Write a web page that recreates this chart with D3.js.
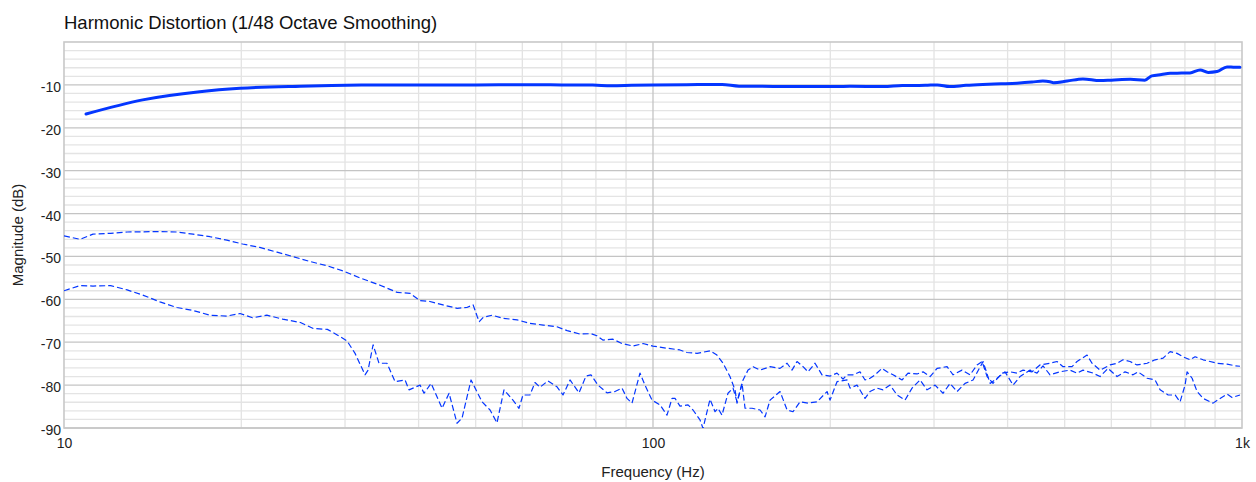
<!DOCTYPE html>
<html>
<head>
<meta charset="utf-8">
<script src="https://cdn.jsdelivr.net/npm/d3@7"></script>
<style>
  html, body { margin: 0; padding: 0; background: #fff; }
  svg { display: block; font-family: "Liberation Sans", Arial, Helvetica, sans-serif; }
</style>
</head>
<body>
<svg id="chart" width="1256" height="482"></svg>
<script>
// Harmonic distortion sweep: fundamental plus 2nd and 3rd harmonic levels (dB) vs frequency (Hz)
const chartTitle = "Harmonic Distortion (1/48 Octave Smoothing)";
const xLabel = "Frequency (Hz)";
const yLabel = "Magnitude (dB)";

const xTickValues = [10, 100, 1000];
const xTickLabels = ["10", "100", "1k"];
const yTickValues = [-10, -20, -30, -40, -50, -60, -70, -80, -90];

const fundamentalFreq = [10.9, 13.6, 17.0, 19.9, 25.2, 32, 40, 50, 60, 70, 79, 85, 92, 100, 114, 131, 140, 160, 185, 205, 216, 246, 265, 290, 304, 319, 340, 363, 390, 415, 440, 459, 472, 478, 505, 537, 574, 600, 646, 684, 703, 730, 755, 790, 816, 849, 876, 907, 943, 973, 992];
const fundamentalDb = [-16.8, -13.5, -11.6, -10.8, -10.3, -10.05, -10.0, -10.0, -9.95, -10.0, -10.05, -10.2, -10.1, -10.0, -9.95, -9.9, -10.3, -10.35, -10.35, -10.4, -10.3, -10.4, -10.15, -10.1, -10.0, -10.4, -10.1, -9.9, -9.75, -9.6, -9.35, -9.1, -9.25, -9.5, -9.1, -8.6, -9.0, -8.9, -8.7, -8.9, -7.9, -7.6, -7.3, -7.25, -7.2, -6.5, -7.1, -6.9, -5.8, -5.9, -5.9];

const h2Freq = [10, 10.65, 11.2, 12.0, 12.8, 14.55, 15.55, 16.56, 17.7, 18.9, 20.1, 21.5, 23.0, 24.5, 26.2, 28.0, 29.8, 31.8, 34.4, 36.8, 38.7, 40.2, 41.8, 44.0, 46.5, 48.3, 49.5, 50.3, 50.7, 51.5, 53.3, 55.6, 58.8, 61.8, 65.1, 68.7, 71.5, 75.2, 78.5, 80.3, 82.2, 85.5, 88.6, 92.5, 96.2, 100, 105.6, 111.1, 114.2, 118.8, 125, 128.4, 131.5, 135.1, 137.8, 138.9, 140.5, 142.2, 145, 147.9, 152, 158, 164.3, 168.9, 172.2, 175.6, 179.8, 183.3, 188.4, 193.6, 199.8, 205.3, 210.2, 213.5, 218.6, 224.6, 229.1, 233.6, 238.2, 244.8, 249.7, 255.6, 264.8, 271.0, 280.7, 287.4, 295.4, 303.6, 315.7, 323.2, 334.7, 345.4, 355.0, 362.0, 369.2, 377.8, 391.4, 403.9, 415.0, 424.9, 440.1, 453.9, 472.1, 485.2, 496.8, 514.5, 524.7, 545.7, 556.4, 574.1, 597.0, 613.6, 628.1, 645.5, 663.4, 690.0, 712.0, 734.6, 755.0, 775.8, 794.3, 816.4, 832.5, 858.9, 882.7, 907.3, 943.4, 973.3, 992.2];
const h2Db = [-45.2, -46.0, -44.8, -44.6, -44.3, -44.2, -44.3, -44.8, -45.4, -46.2, -47.1, -47.9, -49.0, -50.05, -51.2, -52.2, -53.4, -55.0, -56.7, -58.4, -58.6, -60.3, -60.5, -61.3, -62.1, -61.9, -61.3, -64.0, -65.2, -64.2, -63.7, -64.4, -64.8, -65.6, -66.0, -66.4, -67.3, -68.1, -68.0, -68.5, -69.5, -69.3, -70.3, -70.9, -70.3, -70.9, -71.4, -71.8, -72.4, -72.6, -72.0, -73.0, -74.9, -78.0, -81.1, -84.2, -81.5, -78.8, -76.5, -75.7, -76.5, -75.7, -76.1, -74.9, -76.5, -74.5, -75.7, -76.9, -74.9, -77.6, -77.9, -77.2, -78.6, -77.6, -77.6, -76.9, -78.8, -78.4, -77.6, -76.1, -76.9, -77.6, -78.8, -77.2, -77.4, -76.9, -78.0, -76.1, -75.7, -77.6, -76.5, -77.6, -75.3, -74.5, -78.0, -79.6, -77.2, -76.9, -77.2, -76.5, -76.9, -75.3, -74.9, -74.5, -75.7, -75.7, -74.5, -73.0, -74.9, -76.5, -75.3, -74.9, -74.1, -74.5, -75.3, -74.9, -74.1, -73.7, -72.2, -72.6, -73.4, -74.1, -73.4, -74.1, -74.5, -74.9, -75.1, -75.5, -75.6];

const h3Freq = [10, 10.65, 11.2, 12.0, 12.8, 13.6, 14.55, 15.55, 16.56, 17.7, 18.9, 19.9, 20.9, 22.1, 23.5, 25.2, 26.5, 28.0, 29.1, 30.24, 31.2, 32.44, 32.83, 33.48, 34.26, 35.34, 36.48, 37.93, 38.53, 40.23, 40.86, 42.0, 43.84, 45.06, 46.48, 47.4, 49.1, 51.26, 52.89, 54.34, 55.85, 57.84, 59.22, 60.15, 61.82, 63.05, 64.29, 66.33, 68.71, 70.34, 72.3, 74.88, 76.95, 78.47, 80.65, 83.54, 86.19, 88.59, 90.34, 92.12, 95.04, 96.91, 99.61, 102.78, 105.63, 107.72, 108.99, 111.14, 114.68, 116.93, 120.17, 121.59, 124.97, 127.44, 128.94, 130.96, 134.07, 136.73, 138.89, 141.64, 143.31, 147.31, 151.98, 154.98, 158.02, 164.33, 168.9, 172.87, 177.66, 183.31, 189.86, 197.45, 199.78, 205.32, 213.52, 216.04, 222.04, 229.07, 233.6, 240.09, 245.8, 252.63, 259.65, 267.86, 275.3, 284.06, 291.94, 301.22, 310.79, 319.38, 328.26, 338.69, 349.46, 363.42, 373.52, 383.82, 396.02, 408.62, 419.9, 436.7, 448.7, 459.3, 472.1, 491.0, 510.5, 524.7, 537.2, 558.6, 574.1, 592.4, 613.6, 633.1, 653.1, 666.0, 690.0, 712.0, 726.1, 749.1, 769.9, 785.0, 800.5, 806.8, 822.8, 839.0, 858.9, 893.2, 917.9, 943.4, 961.9, 992.2];
const h3Db = [-58.0, -56.8, -56.9, -56.8, -57.8, -59.0, -60.6, -61.9, -62.6, -63.7, -63.9, -63.3, -64.3, -63.7, -64.6, -65.4, -66.8, -67.0, -68.3, -69.7, -72.6, -77.6, -76.5, -70.6, -74.9, -74.9, -79.2, -78.8, -81.1, -80.0, -81.9, -79.6, -85.4, -81.9, -88.9, -87.7, -78.8, -83.9, -85.8, -88.8, -81.1, -83.5, -85.4, -82.3, -82.3, -79.4, -80.5, -79.0, -80.4, -82.3, -78.8, -81.8, -77.9, -77.6, -80.0, -81.8, -81.5, -80.7, -83.1, -84.2, -77.2, -80.0, -83.5, -84.6, -87.0, -83.1, -83.1, -84.9, -84.6, -85.8, -88.1, -90.1, -83.3, -86.2, -85.4, -87.0, -81.9, -80.7, -83.9, -79.6, -85.4, -85.4, -85.8, -87.4, -83.5, -81.5, -85.8, -86.2, -83.9, -84.2, -83.9, -81.5, -83.5, -79.2, -78.8, -80.7, -80.0, -83.1, -81.5, -80.7, -81.1, -80.0, -82.3, -83.5, -80.7, -78.8, -81.1, -80.0, -81.9, -79.6, -81.5, -79.6, -78.8, -74.5, -79.6, -78.4, -76.9, -80.0, -78.0, -76.5, -77.2, -75.5, -77.6, -76.9, -76.5, -77.2, -76.5, -77.2, -78.0, -76.1, -78.0, -76.9, -77.6, -76.9, -78.4, -78.8, -81.1, -82.3, -82.3, -83.9, -80.0, -76.9, -78.4, -81.5, -83.1, -84.2, -83.1, -82.1, -82.9, -82.3];

const lineColor = "#0436ff";

const svg = d3.select("#chart");
const margin = { left: 64, top: 42, right: 14, bottom: 54 };
const W = 1256, H = 482;
const plotW = W - margin.left - margin.right;
const plotH = H - margin.top - margin.bottom;

const x = d3.scaleLog().domain([10, 1000]).range([margin.left, margin.left + plotW]);
const y = d3.scaleLinear().domain([-90, 0]).range([margin.top + plotH, margin.top]);

// title
svg.append("text")
  .attr("x", margin.left).attr("y", 29)
  .attr("font-size", 18.5).attr("fill", "#111")
  .text(chartTitle);

const grid = svg.append("g");

// minor horizontal grid every 2 dB
d3.range(-88, 0, 2).filter(v => v % 10 !== 0).forEach(v => {
  grid.append("line")
    .attr("x1", margin.left).attr("x2", margin.left + plotW)
    .attr("y1", y(v)).attr("y2", y(v))
    .attr("stroke", "#e4e4e4").attr("stroke-width", 1.3);
});

// minor vertical grid at 2..9 within each decade
const minorX = [];
[10, 100].forEach(d => { for (let k = 2; k <= 9; k++) minorX.push(d * k); });
minorX.forEach(f => {
  grid.append("line")
    .attr("x1", x(f)).attr("x2", x(f))
    .attr("y1", margin.top).attr("y2", margin.top + plotH)
    .attr("stroke", "#e3e3e3").attr("stroke-width", 1.3);
});

// major horizontal grid every 10 dB
yTickValues.forEach(v => {
  grid.append("line")
    .attr("x1", margin.left).attr("x2", margin.left + plotW)
    .attr("y1", y(v)).attr("y2", y(v))
    .attr("stroke", "#c4c4c4").attr("stroke-width", 1.3);
});
grid.append("line")
  .attr("x1", x(100)).attr("x2", x(100))
  .attr("y1", margin.top).attr("y2", margin.top + plotH)
  .attr("stroke", "#c4c4c4").attr("stroke-width", 1.3);

// plot frame
svg.append("rect")
  .attr("x", margin.left).attr("y", margin.top)
  .attr("width", plotW).attr("height", plotH)
  .attr("fill", "none").attr("stroke", "#c8c8c8").attr("stroke-width", 1.6);

// y axis labels (plain hyphen minus)
const yAxis = d3.axisLeft(y).tickValues(yTickValues).tickSize(0).tickPadding(3).tickFormat(d => String(d));
const yg = svg.append("g").attr("transform", `translate(${margin.left},2)`).call(yAxis);
yg.select(".domain").remove();
yg.selectAll("text").attr("font-size", 14).attr("fill", "#222").attr("font-family", "Liberation Sans, Arial, sans-serif");

// x axis labels
const xAxis = d3.axisBottom(x).tickValues(xTickValues).tickSize(0).tickPadding(10)
  .tickFormat((d, i) => xTickLabels[i]);
const xg = svg.append("g").attr("transform", `translate(0,${margin.top + plotH})`).call(xAxis);
xg.select(".domain").remove();
xg.selectAll("text").attr("font-size", 14).attr("fill", "#222").attr("font-family", "Liberation Sans, Arial, sans-serif");

// axis titles
svg.append("text")
  .attr("x", x(100)).attr("y", 477)
  .attr("text-anchor", "middle").attr("font-size", 15).attr("fill", "#222")
  .text(xLabel);
svg.append("text")
  .attr("transform", `translate(23,${margin.top + plotH / 2}) rotate(-90)`)
  .attr("text-anchor", "middle").attr("font-size", 15).attr("fill", "#222")
  .text(yLabel);

// clip the traces to the plot area
svg.append("defs").append("clipPath").attr("id", "plotClip")
  .append("rect").attr("x", margin.left).attr("y", margin.top).attr("width", plotW).attr("height", plotH);

const traces = svg.append("g").attr("clip-path", "url(#plotClip)");

function pairs(fs, vs) { return fs.map((f, i) => [f, vs[i]]); }

const harmLine = d3.line().x(d => x(d[0])).y(d => y(d[1]));
const fundLine = d3.line().x(d => x(d[0])).y(d => y(d[1])).curve(d3.curveMonotoneX);

traces.append("path")
  .datum(pairs(h3Freq, h3Db))
  .attr("d", harmLine)
  .attr("fill", "none").attr("stroke", lineColor).attr("stroke-width", 1.2)
  .attr("stroke-dasharray", "6,3").attr("stroke-linejoin", "round");

traces.append("path")
  .datum(pairs(h2Freq, h2Db))
  .attr("d", harmLine)
  .attr("fill", "none").attr("stroke", lineColor).attr("stroke-width", 1.2)
  .attr("stroke-dasharray", "6,3").attr("stroke-linejoin", "round");

traces.append("path")
  .datum(pairs(fundamentalFreq, fundamentalDb))
  .attr("d", fundLine)
  .attr("fill", "none").attr("stroke", lineColor).attr("stroke-width", 3)
  .attr("stroke-linejoin", "round").attr("stroke-linecap", "round");
</script>
</body>
</html>
